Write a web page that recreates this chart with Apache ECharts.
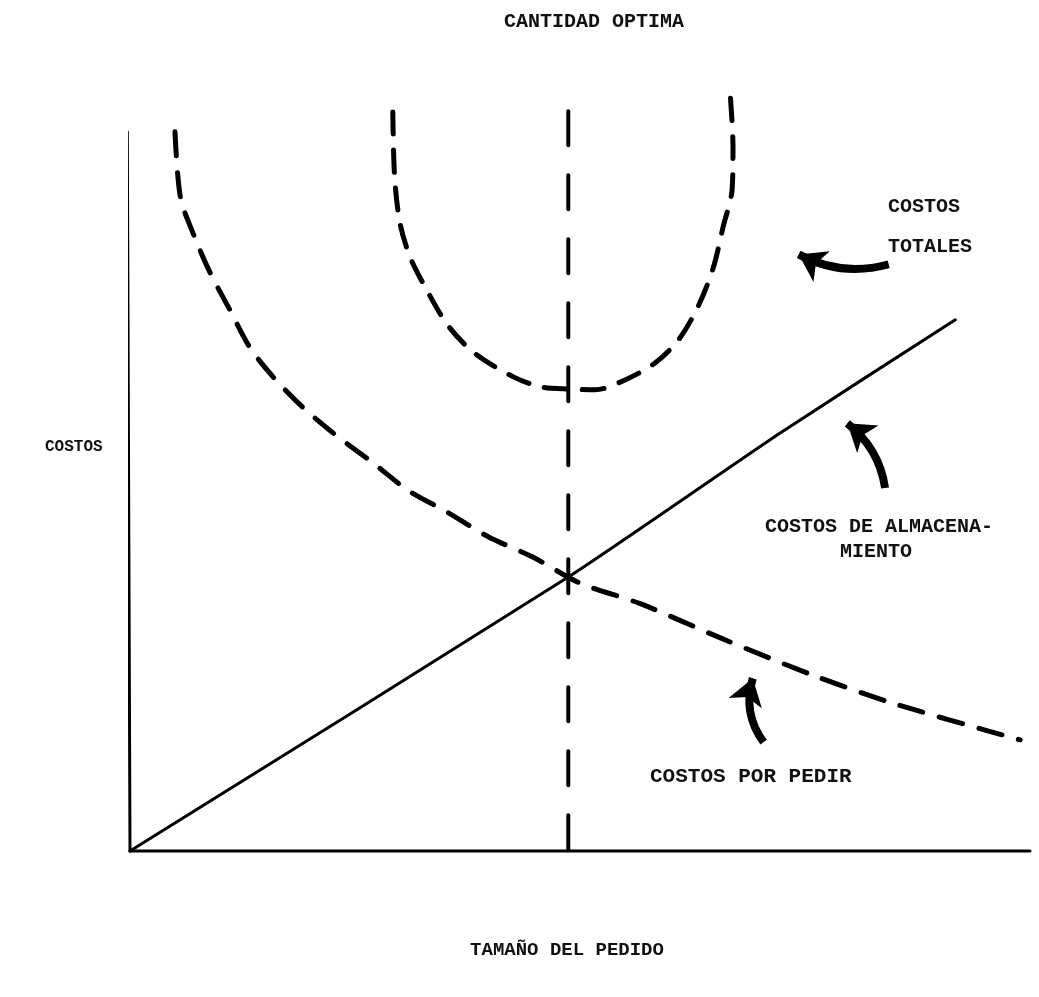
<!DOCTYPE html>
<html>
<head>
<meta charset="utf-8">
<title>Cantidad optima</title>
<script src="https://cdn.jsdelivr.net/npm/echarts@6/dist/echarts.min.js"></script>
<style>
  html, body { margin: 0; padding: 0; background: #fff; }
  #chart { width: 1039px; height: 997px; }
</style>
</head>
<body>
<div id="chart"></div>
<script>
// datos (x: tamaño del pedido, y: costos, escala 0-100)
const ejeX = [[0, 0], [100, 0]]
const ejeY = [[0, 0], [-0.3, 94.5]]

const costosAlmacenamiento = [[0, 0], [48.7, 36.0], [72.2, 54.9], [91.7, 69.8]]

const costosPorPedir = [
  [5.0, 94.5], [5.6, 85.9], [7.0, 81.2], [8.9, 76.0], [11.1, 71.1],
  [13.3, 66.2], [15.9, 62.3], [19.2, 58.3], [22.6, 54.9], [27.0, 51.0],
  [30.9, 47.4], [35.3, 44.5], [39.8, 41.3], [44.8, 38.6], [50.0, 35.2],
  [56.7, 32.5], [65.6, 28.0], [75.9, 23.1], [84.8, 19.4], [98.9, 14.6],
]

const costosTotales = [
  [29.2, 97.1], [29.4, 88.6], [30.0, 82.5], [31.1, 78.1], [32.8, 74.1],
  [35.3, 69.1], [38.3, 65.4], [42.6, 62.3], [45.6, 61.0], [48.9, 60.7],
  [51.7, 60.6], [55.0, 61.9], [58.3, 64.1], [60.9, 67.1], [63.1, 71.5],
  [64.8, 76.6], [65.9, 82.0], [66.9, 86.9], [67.0, 92.5], [66.7, 99.3],
]

// de arriba hacia abajo, para que el primer trazo empiece arriba
const cantidadOptima = [[48.7, 97.2], [48.7, 0]]

// flechas: [cola, punta], curvatura
const flechas = [
  { coords: [[84.3, 77.1], [74.3, 78.4]], curveness: 0.2 },
  { coords: [[83.9, 47.7], [79.7, 56.2]], curveness: -0.2 },
  { coords: [[70.4, 14.3], [69.2, 22.7]], curveness: 0.25 },
]

const etiquetas = [
  { text: 'CANTIDAD OPTIMA', x: 594, y: 22, size: 20, align: 'center' },
  { text: 'COSTOS', x: 45, y: 447, size: 16, align: 'left' },
  { text: 'TAMAÑO DEL PEDIDO', x: 567, y: 950, size: 19, align: 'center' },
  { text: 'COSTOS', x: 888, y: 207, size: 20, align: 'left' },
  { text: 'TOTALES', x: 888, y: 247, size: 20, align: 'left' },
  { text: 'COSTOS DE ALMACENA-', x: 765, y: 527, size: 20, align: 'left' },
  { text: 'MIENTO', x: 840, y: 552, size: 20, align: 'left' },
  { text: 'COSTOS POR PEDIR', x: 650, y: 777, size: 21, align: 'left' },
]

const chart = echarts.init(document.getElementById('chart'))

function linea(data, width, type, smooth) {
  return {
    type: 'line',
    data,
    clip: false,
    showSymbol: false,
    smooth,
    silent: true,
    lineStyle: { color: '#000', width, type, cap: 'round' },
  }
}

chart.setOption({
  backgroundColor: '#fff',
  animation: false,
  grid: { left: 130, right: 9, top: 90, bottom: 146 },
  xAxis: { type: 'value', min: 0, max: 100, show: false },
  yAxis: { type: 'value', min: 0, max: 100, show: false },
  graphic: etiquetas.map((e) => ({
    type: 'text',
    x: e.x,
    y: e.y,
    style: {
      text: e.text,
      fill: '#111',
      font: `bold ${e.size}px "Liberation Mono", monospace`,
      align: e.align,
      verticalAlign: 'middle',
    },
  })),
  series: [
    linea(ejeX, 3, 'solid', false),
    linea(ejeY, 3, 'solid', false),
    linea(costosAlmacenamiento, 3, 'solid', 0.2),
    linea(costosPorPedir, 5, [24, 17], 0.3),
    linea(costosTotales, 5, [22, 16], 0.3),
    linea(cantidadOptima, 4, [34, 30], false),
    {
      type: 'lines',
      coordinateSystem: 'cartesian2d',
      silent: true,
      symbol: ['none', 'arrow'],
      symbolSize: 26,
      lineStyle: { color: '#000', width: 8, opacity: 1 },
      data: flechas.map((f) => ({ coords: f.coords, lineStyle: { curveness: f.curveness } })),
    },
  ],
})
</script>
</body>
</html>
